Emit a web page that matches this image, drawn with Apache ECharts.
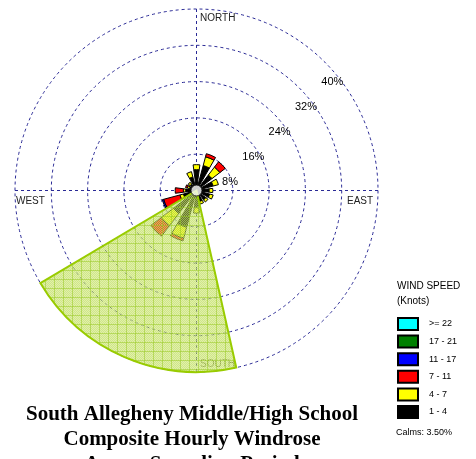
<!DOCTYPE html>
<html><head><meta charset="utf-8">
<script src="https://cdn.jsdelivr.net/npm/echarts@6/dist/echarts.min.js"></script>
<style>html,body{margin:0;padding:0;background:#fff}#c{width:476px;height:459px}</style>
</head><body><div id="c"></div>
<script>
// ---- data ----
const directions = ['N','NNE','NE','ENE','E','ESE','SE','SSE','S','SSW','SW','WSW','W','WNW','NW','NNW'];
const speedBins = ['1 - 4','4 - 7','7 - 11','11 - 17','17 - 21','>= 22'];
const legendOrder = ['>= 22','17 - 21','11 - 17','7 - 11','4 - 7','1 - 4'];
const binColors = ['#000000','#ffff00','#ff0000','#0000ff','#008000','#00ffff'];
const pct_1_4   = [4.6, 5.7, 4.3, 3.8, 2.8, 3.0, 2.6, 2.5, 3.8, 8.4, 6.4, 3.0, 2.4, 1.6, 1.8, 3.1];
const pct_4_7   = [1.1, 2.0, 2.2, 1.2, 0.8, 0.8, 0.6, 0.6, 1.2, 2.5, 3.4, 0.8, 0.5, 0.5, 0.5, 1.2];
const pct_7_11  = [0, 0.7, 1.5, 0, 0, 0, 0, 0, 0, 0.6, 2.9, 3.7, 1.8, 0.4, 0, 0];
const pct_11_17 = [0, 0, 0, 0, 0, 0, 0, 0, 0, 0, 0, 0.3, 0, 0, 0, 0];
const pct_17_21 = [0, 0, 0, 0, 0, 0, 0, 0, 0, 0, 0, 0, 0, 0, 0, 0];
const pct_22    = [0, 0, 0, 0, 0, 0, 0, 0, 0, 0, 0, 0, 0, 0, 0, 0];
const ringTicks = [8, 16, 24, 32, 40];
const calmsPct = 3.50;
const wedgeSlots = ['w0','w1','w2','w3','w4'];
const wedgeValues = [null, null, 40.3, null, null];
const compassSlots = ['N','E','S','W'];
const titleLines = ['South Allegheny Middle/High School','Composite Hourly Windrose','Across Sampling Period'];

// ---- chart ----
const binData = [pct_1_4, pct_4_7, pct_7_11, pct_11_17, pct_17_21, pct_22];
const C = [196.5, 190.5], R = 181.5;
const gridColor = '#2a2a96';

function makeHatch(){
  const c = document.createElement('canvas'); c.width = 9; c.height = 9;
  const g = c.getContext('2d');
  g.fillStyle = 'rgba(178,215,55,0.6)'; g.fillRect(0,0,9,9);
  g.fillStyle = 'rgba(255,255,255,0.3)';
  for (let y=0;y<9;y++) for (let x=0;x<9;x++) if ((x+y)%2===0) g.fillRect(x,y,1,1);
  g.fillStyle = 'rgba(150,200,30,0.5)'; g.fillRect(0,0,9,1); g.fillRect(0,0,1,9);
  return c;
}

const chart = echarts.init(document.getElementById('c'), null, {renderer:'canvas'});
const series = speedBins.map((name,i)=>({
  type:'bar', coordinateSystem:'polar', polarIndex:0, name, stack:'rose',
  data: binData[i].map(v => v > 0 ? v : '-'),
  barWidth:15,
  itemStyle:{color:binColors[i], borderColor:'#000', borderWidth:1},
  z:2, silent:true
}));
series.push({
  type:'bar', coordinateSystem:'polar', polarIndex:1, name:'sector',
  data: wedgeValues, barCategoryGap:'0%',
  itemStyle:{color:{image:makeHatch(), repeat:'repeat'}, borderColor:'#99cc00', borderWidth:2},
  z:3, silent:true
});
series.push({
  type:'scatter', coordinateSystem:'polar', polarIndex:0, name:'calm',
  data:[[0,0]], symbolSize:11,
  itemStyle:{color:'#fff', borderColor:'#000', borderWidth:1}, z:5, silent:true
});

const hidden = {show:false};
chart.setOption({
  animation:false,
  backgroundColor:'#fff',
  title:{
    text: titleLines.join('\n'), left:192, top:402, textAlign:'center', padding:0,
    textStyle:{fontFamily:'Liberation Serif', fontWeight:'bold', fontSize:21, lineHeight:25, color:'#000'}
  },
  polar:[
    {center:C, radius:R},
    {center:C, radius:R},
    {center:C, radius:R},
    {center:C, radius:R}
  ],
  angleAxis:[
    {polarIndex:0, type:'category', data:directions, startAngle:101.25, boundaryGap:true,
     axisLine:hidden, axisTick:hidden, axisLabel:hidden, splitLine:hidden},
    {polarIndex:1, type:'category', data:wedgeSlots, startAngle:66.65, boundaryGap:true, show:false},
    {polarIndex:2, type:'category', data:compassSlots, startAngle:90, boundaryGap:true,
     axisLine:hidden, axisTick:hidden, axisLabel:hidden,
     splitLine:{show:true, lineStyle:{color:gridColor, type:[3,3], width:1}}},
    {polarIndex:3, type:'value', min:0, max:360, startAngle:43.5, show:false}
  ],
  radiusAxis:[
    {polarIndex:0, min:0, max:40, interval:8, axisLine:hidden, axisTick:hidden, axisLabel:hidden,
     splitLine:{show:true, lineStyle:{color:gridColor, type:[3,3], width:1}}},
    {polarIndex:1, min:0, max:40, show:false},
    {polarIndex:2, min:0, max:40, show:false},
    {polarIndex:3, min:0, max:40, interval:8, axisLine:hidden, axisTick:hidden, splitLine:hidden,
     axisLabel:{show:true, showMinLabel:false, margin:-22, fontSize:11, fontFamily:'Liberation Sans', color:'#000',
       formatter:v => ringTicks.includes(v) ? v + '%' : ''}}
  ],
  legend:{
    data:legendOrder, orient:'vertical', left:397, top:317, itemWidth:20, itemHeight:12, itemGap:3.6,
    icon:'rect', selectedMode:false, padding:0,
    textStyle:{fontSize:9, fontFamily:'Liberation Sans', color:'#000', padding:[0,0,0,6]}
  },
  graphic:[
    {type:'text', left:200, top:13, style:{text:'NORTH', font:'10px "Liberation Sans"', fill:'#222'}},
    {type:'text', left:347, top:196, style:{text:'EAST', font:'10px "Liberation Sans"', fill:'#222'}},
    {type:'text', left:16, top:196, style:{text:'WEST', font:'10px "Liberation Sans"', fill:'#222'}},
    {type:'text', left:200, top:359, style:{text:'SOUTH', font:'10px "Liberation Sans"', fill:'#6d7356'}},
    {type:'text', left:397, top:281, style:{text:'WIND SPEED', font:'10px "Liberation Sans"', fill:'#000'}},
    {type:'text', left:397, top:296, style:{text:'(Knots)', font:'10px "Liberation Sans"', fill:'#000'}},
    {type:'text', left:396, top:428, style:{text:'Calms: ' + calmsPct.toFixed(2) + '%', font:'9px "Liberation Sans"', fill:'#000'}}
  ],
  series
});
</script></body></html>
